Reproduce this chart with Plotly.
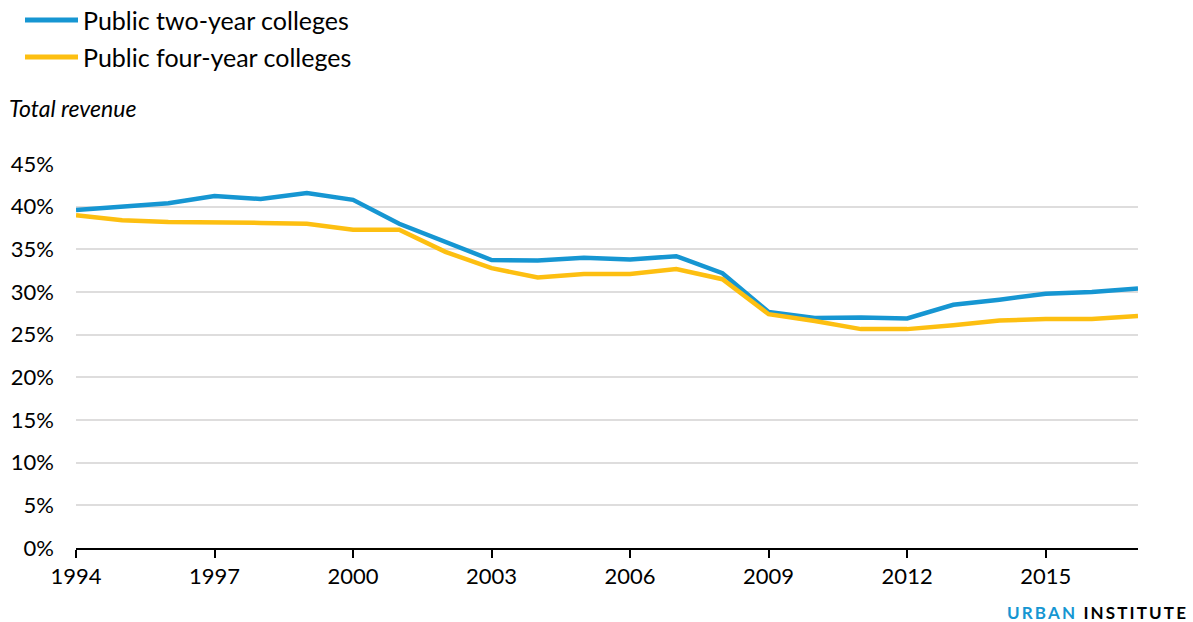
import plotly.graph_objects as go

years = list(range(1994, 2018))
two_year = [39.6, 40.0, 40.4, 41.25, 40.9, 41.6, 40.8, 38.0, 35.9, 33.75, 33.7, 34.0,
            33.8, 34.2, 32.2, 27.65, 26.95, 27.0, 26.9, 28.5, 29.1, 29.8, 30.0, 30.4]
four_year = [39.0, 38.4, 38.2, 38.2, 38.1, 38.0, 37.3, 37.3, 34.7, 32.8, 31.7, 32.1,
             32.1, 32.7, 31.5, 27.4, 26.6, 25.65, 25.65, 26.1, 26.65, 26.85, 26.85, 27.2]
series_names = ["Public two-year colleges", "Public four-year colleges"]
colors = ["#1696d2", "#fdbf11"]
x_ticks = [1994, 1997, 2000, 2003, 2006, 2009, 2012, 2015]
y_ticks = [0, 5, 10, 15, 20, 25, 30, 35, 40, 45]
y_ticktext = [f"{v}%" for v in y_ticks]

FONT = "Lato, 'Open Sans', sans-serif"

L, T, PW, PH = 76, 164, 1062, 384


def px(x):
    return (x - L) / PW


def py(y):
    return 1 + (T - y) / PH


fig = go.Figure()
for name, vals, col in zip(series_names, [two_year, four_year], colors):
    fig.add_trace(go.Scatter(x=years, y=vals, mode="lines", name=name,
                             line=dict(color=col, width=4.5), showlegend=False))

fig.update_layout(
    width=1193, height=622,
    margin=dict(l=76, r=55, t=164, b=74, autoexpand=False),
    paper_bgcolor="white", plot_bgcolor="white",
    font=dict(family=FONT, size=22, color="#000000"),
    xaxis=dict(range=[1994, 2017], tickvals=x_ticks, showgrid=False,
               showline=True, linecolor="#000000", linewidth=2,
               ticks="outside", ticklen=8, tickwidth=2, tickcolor="#000000",
               tickfont=dict(size=22), zeroline=False, fixedrange=True,
               automargin=False),
    yaxis=dict(range=[0, 45], tickvals=y_ticks, ticktext=y_ticktext,
               showgrid=True, gridcolor="#dedddd", gridwidth=2,
               zeroline=False, showline=False, ticks="",
               ticklabelstandoff=21, tickfont=dict(size=22), fixedrange=True,
               automargin=False),
)

# Custom legend
legend_y = [20, 57]
for yy, name, col in zip(legend_y, series_names, colors):
    fig.add_shape(type="line", xref="paper", yref="paper",
                  x0=px(25), x1=px(78), y0=py(yy), y1=py(yy),
                  line=dict(color=col, width=5))
    fig.add_annotation(xref="paper", yref="paper", x=px(81), y=py(yy),
                       text=name, showarrow=False,
                       xanchor="left", yanchor="middle",
                       font=dict(size=25, color="#000000", family=FONT))

fig.add_annotation(xref="paper", yref="paper", x=px(7), y=py(108),
                   text="<i>Total revenue</i>",
                   showarrow=False, xanchor="left", yanchor="middle",
                   font=dict(size=23, color="#000000", family=FONT))

sp = "\u2009"
urban = sp.join("URBAN")
inst = sp.join("INSTITUTE")
fig.add_annotation(xref="paper", yref="paper", x=px(1188), y=py(612),
                   text=f"<b><span style='color:#1696d2'>{urban}</span>  {inst}</b>",
                   showarrow=False, xanchor="right", yanchor="middle",
                   font=dict(size=17, color="#000000", family=FONT))

fig.write_html("out.html", config={"displayModeBar": False},
               post_script="document.body.style.margin='0';document.body.style.overflow='hidden';")
